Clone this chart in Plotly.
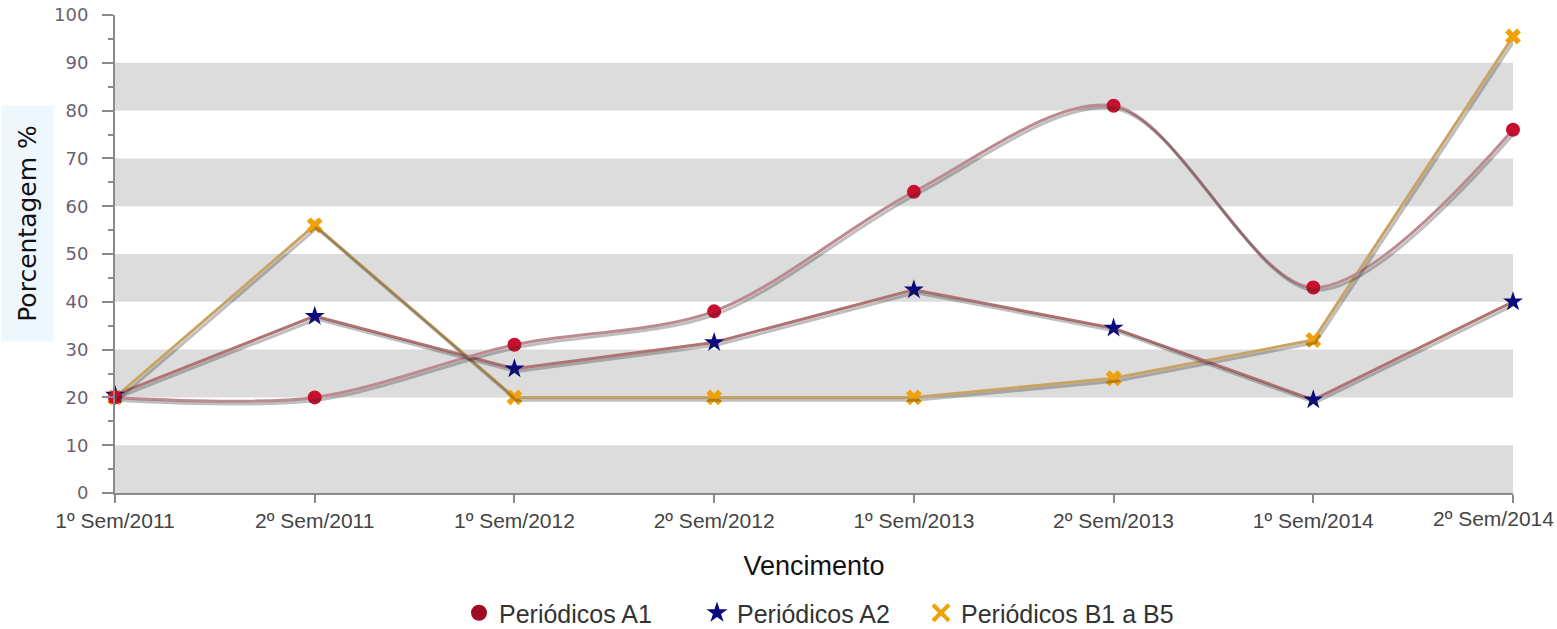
import plotly.graph_objects as go

categories = ["1º Sem/2011", "2º Sem/2011", "1º Sem/2012", "2º Sem/2012",
              "1º Sem/2013", "2º Sem/2013", "1º Sem/2014", "2º Sem/2014"]
periodicos_a1 = [20, 20, 31, 38, 63, 81, 43, 76]
periodicos_a2 = [20.5, 37, 26, 31.5, 42.5, 34.5, 19.5, 40]
periodicos_b1_b5 = [20, 56, 20, 20, 20, 24, 32, 95.5]
series_names = ["Periódicos A1", "Periódicos A2", "Periódicos B1 a B5"]
y_ticks = [0, 10, 20, 30, 40, 50, 60, 70, 80, 90, 100]
band_ranges = [(0, 10), (20, 30), (40, 50), (60, 70), (80, 90)]

W, H = 1557, 629
x_idx = list(range(len(categories)))
n_last = len(categories) - 1

fig = go.Figure()

# Drop shadows (same data on a slightly offset hidden axis pair)
shadow = dict(color="rgba(40,40,40,0.30)", width=3)
fig.add_trace(go.Scatter(x=x_idx, y=periodicos_b1_b5, mode="lines", line=shadow,
                         xaxis="x2", yaxis="y2", showlegend=False, hoverinfo="skip"))
fig.add_trace(go.Scatter(x=x_idx, y=periodicos_a2, mode="lines", line=shadow,
                         xaxis="x2", yaxis="y2", showlegend=False, hoverinfo="skip"))
fig.add_trace(go.Scatter(x=x_idx, y=periodicos_a1, mode="lines",
                         line=dict(shadow, shape="spline", smoothing=0.9),
                         xaxis="x2", yaxis="y2", showlegend=False, hoverinfo="skip"))

# Lines
fig.add_trace(go.Scatter(x=x_idx, y=periodicos_b1_b5, mode="lines+markers",
                         line=dict(color="#c8a464", width=3),
                         marker=dict(symbol="x", size=14, color="#f0a008"),
                         showlegend=False, cliponaxis=False, hoverinfo="y"))
fig.add_trace(go.Scatter(x=x_idx, y=periodicos_a2, mode="lines+markers",
                         line=dict(color="#b07272", width=3),
                         marker=dict(symbol="star", size=15, color="#0a0a80"),
                         showlegend=False, cliponaxis=False, hoverinfo="y"))
fig.add_trace(go.Scatter(x=x_idx, y=periodicos_a1, mode="lines+markers",
                         line=dict(color="#bc8a90", width=3, shape="spline", smoothing=0.9),
                         marker=dict(symbol="circle", size=14, color="#c8102e"),
                         showlegend=False, cliponaxis=False, hoverinfo="y"))

# Legend entries (markers only), one legend box per entry
legend_markers = [
    dict(symbol="circle", size=19, color="#a00c24"),
    dict(symbol="star", size=21, color="#0a0a80"),
    dict(symbol="x-thin-open", size=18, color="#f0a008", line=dict(width=4, color="#f0a008")),
]
legend_ids = ["legend", "legend2", "legend3"]
legend_left_px = [459, 697, 921]
for name, mk, lid in zip(series_names, legend_markers, legend_ids):
    fig.add_trace(go.Scatter(x=[None], y=[None], mode="markers", name=name,
                             marker=mk, showlegend=True, legend=lid))

# Gray bands
for lo, hi in band_ranges:
    fig.add_shape(type="rect", xref="x", yref="y", x0=0, x1=n_last,
                  y0=lo, y1=hi, fillcolor="#dcdcdc", line=dict(width=0), layer="below")

# Y title with light-blue box
fig.add_annotation(text="Porcentagem %", xref="paper", yref="paper",
                   x=(27.5 - 115) / 1398, y=(493 - 223.5) / 478,
                   xanchor="center", yanchor="middle",
                   textangle=-90, showarrow=False, bgcolor="#eef6fe",
                   width=233, height=49,
                   font=dict(family="DejaVu Sans", size=25, color="#111111"))

# Last category label: right-aligned so it stays inside the page
tick_text = categories[:-1] + [""]
fig.add_annotation(text=categories[-1], xref="x", yref="paper", x=n_last, y=0,
                   xanchor="right", yanchor="top", xshift=43, yshift=-12,
                   showarrow=False, font=dict(size=21, color="#444444"))

legend_style = dict(orientation="h", xref="container", yref="container",
                    xanchor="left", y=(H - 613) / H, yanchor="middle",
                    font=dict(size=25, color="#333333"), itemwidth=30,
                    bgcolor="rgba(0,0,0,0)")
legends = {lid: dict(legend_style, x=px / W) for lid, px in zip(legend_ids, legend_left_px)}

fig.update_layout(
    width=W, height=H,
    margin=dict(l=115, r=44, t=15, b=136, autoexpand=False),
    paper_bgcolor="white", plot_bgcolor="white",
    font=dict(family="Liberation Sans, Arial", color="#444444"),
    **legends,
    xaxis=dict(
        range=[0, n_last],
        tickmode="array", tickvals=x_idx, ticktext=tick_text,
        showgrid=False, zeroline=False,
        showline=True, linecolor="#8a8a8a", linewidth=2,
        ticks="outside", ticklen=8, tickwidth=2, tickcolor="#8a8a8a",
        tickfont=dict(size=21, color="#444444"),
        title=dict(text="Vencimento", font=dict(size=27, color="#111111"), standoff=25),
    ),
    yaxis=dict(
        range=[0, 100],
        tickmode="array", tickvals=y_ticks,
        showgrid=False, zeroline=False,
        showline=True, linecolor="#8a8a8a", linewidth=2,
        ticks="outside", ticklen=11, tickwidth=2, tickcolor="#8a8a8a",
        ticklabelstandoff=10, ticklabeloverflow="allow",
        minor=dict(dtick=5, ticks="outside", ticklen=5, tickwidth=2, tickcolor="#8a8a8a", showgrid=False),
        tickfont=dict(family="DejaVu Sans", size=18, color="#6a6270"),
    ),
    xaxis2=dict(range=[-0.01, n_last - 0.01], overlaying="x", visible=False, fixedrange=True),
    yaxis2=dict(range=[0.6, 100.6], overlaying="y", visible=False, fixedrange=True),
)

fig.write_html("out.html", config={"displayModeBar": False},
               post_script="document.body.style.margin='0';document.body.style.overflow='hidden';")
